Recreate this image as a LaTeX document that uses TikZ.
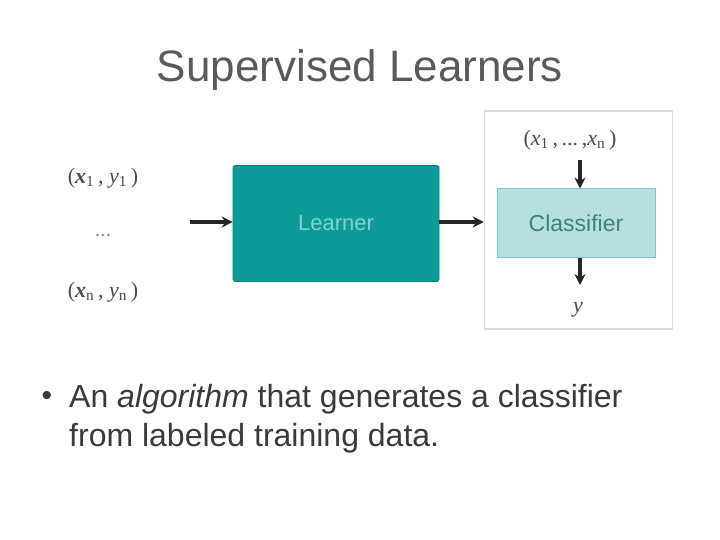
\documentclass[tikz,border=0pt]{standalone}
\usepackage{fontspec}
\setmainfont{Liberation Sans}
\newfontfamily\serifx{Liberation Serif}
\usetikzlibrary{arrows.meta}
\definecolor{learnerfill}{HTML}{0E9A98}
\definecolor{learnertext}{HTML}{7ED3CF}
\definecolor{clsfill}{HTML}{B4E0E0}
\definecolor{clsdraw}{HTML}{86C4C4}
\definecolor{clstext}{HTML}{3F8080}
\definecolor{outerdraw}{HTML}{D9D9D9}
\definecolor{titlegray}{HTML}{5A5A5A}
\definecolor{bodygray}{HTML}{3A3A3A}
\begin{document}
\begin{tikzpicture}[x=1pt,y=-1pt,
  conn/.style={-{Stealth[length=11pt,width=11pt]},line width=4pt,black!85},
  lbl/.style={font=\serifx\fontsize{22}{26}\selectfont,text=black!70,inner sep=0pt}]
\useasboundingbox (0,0) rectangle (720,540);
\node[text=titlegray,font=\fontsize{44}{50}\selectfont] (title) at (360,70) {Supervised Learners};
\node[lbl] (in1) at (103,178) {(\textbf{\textit{x}}\textsubscript{1}\,, \textit{y}\textsubscript{1}\,)};
\node[lbl,text=black!40] (dots) at (103,236) {...};
\node[lbl] (inn) at (103,292) {(\textbf{\textit{x}}\textsubscript{n}\,, \textit{y}\textsubscript{n}\,)};
\node[draw=outerdraw,line width=1.5pt,minimum width=188pt,minimum height=218pt,inner sep=0pt] (outer) at (578.5,220) {};
\node[fill=learnerfill,draw=learnerfill!85!black,line width=0.6pt,rounded corners=2pt,minimum width=206pt,minimum height=116pt,text=learnertext,font=\fontsize{22}{26}\selectfont] (learner) at (336,223.5) {Learner};
\node[fill=clsfill,draw=clsdraw,line width=1pt,minimum width=158pt,minimum height=68pt,text=clstext,font=\fontsize{23}{27}\selectfont] (cls) at (576,223) {Classifier};
\node[lbl] (xin) at (570,140) {(\textit{x}\textsubscript{1}\,,\,...\,,\textit{x}\textsubscript{n}\,)};
\node[lbl,font=\serifx\itshape\fontsize{22}{26}\selectfont] (yout) at (578,310) {y};
\coordinate (a0) at (190,222);
\coordinate (t0) at (580,160);
\coordinate (b1) at (580,285);
\draw[conn] (a0) -- (learner.west |- a0);
\draw[conn] (learner.east |- a0) -- (outer.west |- a0);
\draw[conn] (t0) -- (cls.north -| t0);
\draw[conn] (cls.south -| b1) -- (b1);
\node[text=bodygray,font=\fontsize{30}{34}\selectfont,inner sep=0pt] (bullet) at (47,398) {\textbullet};
\node[anchor=north west,text=bodygray,font=\fontsize{32}{39}\selectfont,align=left,inner sep=0pt] (body) at (69,384) {An \textit{algorithm} that generates a classifier\\from labeled training data.};
\end{tikzpicture}
\end{document}
